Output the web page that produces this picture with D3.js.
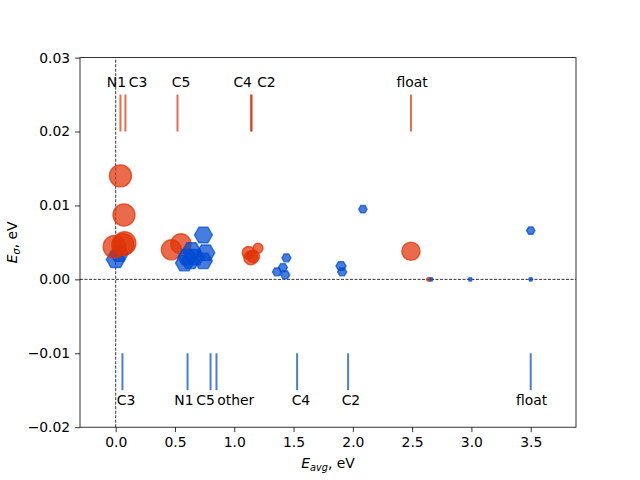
<!DOCTYPE html>
<html>
<head>
<meta charset="utf-8">
<script src="https://cdn.jsdelivr.net/npm/d3@7"></script>
<style>
  body { margin: 0; background: #fff; }
  text { font-family: "DejaVu Sans", sans-serif; }
</style>
</head>
<body>
<div id="chart"></div>
<script>
// orange circles (x = E_avg, y = E_sigma, s = marker weight)
var orangeX = [0.040, 0.070, -0.010, 0.075, 0.060, 0.47, 0.55, 1.12, 1.14, 1.16, 1.20, 2.49, 2.64];
var orangeY = [0.0140, 0.0087, 0.0044, 0.0049, 0.0047, 0.0040, 0.0048, 0.0036, 0.0029, 0.0031, 0.0042, 0.0038, 0.0];
var orangeS = [250, 250, 265, 265, 250, 210, 210, 80, 100, 80, 52, 170, 8];

// blue hexagons
var blueX = [0.00, 0.03, 0.74, 0.64, 0.76, 0.58, 0.63, 0.74, 0.67, 0.60, 1.44, 1.41, 1.36, 1.43, 1.90, 1.91, 2.085, 3.50, 2.66, 2.99, 3.50];
var blueY = [0.0027, 0.0035, 0.0060, 0.0039, 0.0036, 0.0022, 0.0025, 0.0025, 0.0030, 0.0030, 0.0029, 0.0016, 0.0010, 0.0006, 0.0018, 0.0010, 0.0095, 0.0066, 0.0, 0.0, 0.0];
var blueS = [180, 170, 165, 165, 165, 165, 165, 165, 165, 165, 42, 42, 42, 42, 52, 42, 36, 36, 8, 8, 8];

// reference marks above (orange) and below (blue)
var topLineX = [0.040, 0.082, 0.521, 1.141, 1.147, 2.490];
var topNames = ["N1", "C3", "C5", "C4", "C2", "float"];
var topLabelX = [0.006, 0.189, 0.552, 1.071, 1.271, 2.500];

var botLineX = [0.057, 0.606, 0.800, 0.850, 1.530, 1.960, 3.500];
var botNames = ["C3", "N1", "C5", "other", "C4", "C2", "float"];
var botLabelX = [0.087, 0.575, 0.758, 1.013, 1.562, 1.984, 3.508];

var xTicks = [0, 0.5, 1.0, 1.5, 2.0, 2.5, 3.0, 3.5];
var yTicks = [-0.02, -0.01, 0.00, 0.01, 0.02, 0.03];

//sizes
var width = 640, height = 480;
var margin = {top: 57.6, right: 64, bottom: 52.8, left: 80};
var fs = 13.9;

var orange = "rgb(224,50,5)", blue = "rgb(0,75,210)", alpha = 0.72;

var x = d3.scaleLinear().domain([-0.301, 3.882]).range([margin.left, width - margin.right]);
var y = d3.scaleLinear().domain([-0.02, 0.03]).range([height - margin.bottom, margin.top]);
var r = d3.scaleSqrt().domain([0, 250]).range([0, 11]);

var svg = d3.select("#chart").append("svg")
    .attr("width", width)
    .attr("height", height);

var plot = svg.append("g");

//dashed zero lines
plot.append("line")
    .attr("x1", x(0)).attr("x2", x(0))
    .attr("y1", y.range()[0]).attr("y2", y.range()[1])
    .attr("stroke", "black").attr("stroke-width", 0.8)
    .attr("stroke-dasharray", "3,1.5");
plot.append("line")
    .attr("x1", x.range()[0]).attr("x2", x.range()[1])
    .attr("y1", y(0)).attr("y2", y(0))
    .attr("stroke", "black").attr("stroke-width", 0.8)
    .attr("stroke-dasharray", "3,1.5");

//blue hexagons, flat top
function hexagon(rad) {
  var pts = d3.range(6).map(function (k) {
    var a = k * Math.PI / 3;
    return [rad * Math.cos(a), rad * Math.sin(a)];
  });
  return "M" + pts.join("L") + "Z";
}

function drawHex(g, idx) {
  g.selectAll("path")
    .data(idx)
    .enter().append("path")
    .attr("d", function (i) { return hexagon(r(blueS[i])); })
    .attr("transform", function (i) {
      return "translate(" + x(blueX[i]) + "," + y(blueY[i]) + ")";
    })
    .attr("fill", blue).attr("fill-opacity", alpha)
    .attr("stroke", blue).attr("stroke-opacity", alpha)
    .attr("stroke-width", 1.4);
}

var allBlue = d3.range(blueX.length);
// the two near zero sit under the circles, the rest on top
drawHex(plot.append("g"), allBlue.filter(function (i) { return blueX[i] < 0.3; }));

//orange circles
plot.append("g").selectAll("circle")
    .data(d3.range(orangeX.length))
    .enter().append("circle")
    .attr("cx", function (i) { return x(orangeX[i]); })
    .attr("cy", function (i) { return y(orangeY[i]); })
    .attr("r", function (i) { return r(orangeS[i]); })
    .attr("fill", orange).attr("fill-opacity", alpha)
    .attr("stroke", orange).attr("stroke-opacity", alpha)
    .attr("stroke-width", 1.4);

drawHex(plot.append("g"), allBlue.filter(function (i) { return blueX[i] >= 0.3; }));

//reference lines + labels
plot.append("g").selectAll("line")
    .data(topLineX)
    .enter().append("line")
    .attr("x1", function (d) { return x(d); }).attr("x2", function (d) { return x(d); })
    .attr("y1", y(0.02)).attr("y2", y(0.025))
    .attr("stroke", orange).attr("stroke-opacity", alpha).attr("stroke-width", 2);
plot.append("g").selectAll("text")
    .data(topNames)
    .enter().append("text")
    .attr("x", function (d, i) { return x(topLabelX[i]); })
    .attr("y", y(0.026))
    .attr("text-anchor", "middle")
    .style("font-size", fs + "px")
    .text(function (d) { return d; });

plot.append("g").selectAll("line")
    .data(botLineX)
    .enter().append("line")
    .attr("x1", function (d) { return x(d); }).attr("x2", function (d) { return x(d); })
    .attr("y1", y(-0.01)).attr("y2", y(-0.015))
    .attr("stroke", blue).attr("stroke-opacity", alpha).attr("stroke-width", 2);
plot.append("g").selectAll("text")
    .data(botNames)
    .enter().append("text")
    .attr("x", function (d, i) { return x(botLabelX[i]); })
    .attr("y", y(-0.017))
    .attr("text-anchor", "middle")
    .style("font-size", fs + "px")
    .text(function (d) { return d; });

//axes
var xAxis = svg.append("g")
    .attr("transform", "translate(0," + y.range()[0] + ")")
    .call(d3.axisBottom(x).tickValues(xTicks).tickFormat(d3.format(".1f")).tickSizeOuter(0).tickSize(4.9).tickPadding(4.9));
var yAxis = svg.append("g")
    .attr("transform", "translate(" + x.range()[0] + ",0)")
    .call(d3.axisLeft(y).tickValues(yTicks).tickFormat(d3.format(".2f")).tickSizeOuter(0).tickSize(4.9).tickPadding(4.9));

[xAxis, yAxis].forEach(function (ax) {
  ax.selectAll("text").style("font-size", fs + "px").attr("fill", "black")
    .style("font-family", "DejaVu Sans");
  ax.selectAll("line").attr("stroke", "black").attr("stroke-width", 0.8);
  ax.select(".domain").remove();
});

//frame
svg.append("rect")
    .attr("x", x.range()[0]).attr("y", y.range()[1])
    .attr("width", x.range()[1] - x.range()[0])
    .attr("height", y.range()[0] - y.range()[1])
    .attr("fill", "none").attr("stroke", "black").attr("stroke-width", 0.8);

//axis titles
var xl = svg.append("text")
    .attr("x", (x.range()[0] + x.range()[1]) / 2)
    .attr("y", 468)
    .attr("text-anchor", "middle")
    .style("font-size", fs + "px");
xl.append("tspan").style("font-style", "italic").text("E");
xl.append("tspan").style("font-style", "italic").style("font-size", (fs * 0.7) + "px")
    .attr("dy", 2.5).text("avg");
xl.append("tspan").attr("dy", -2.5).text(", eV");

var yl = svg.append("text")
    .attr("transform", "translate(17," + (y.range()[0] + y.range()[1]) / 2 + ") rotate(-90)")
    .attr("text-anchor", "middle")
    .style("font-size", fs + "px");
yl.append("tspan").style("font-style", "italic").text("E");
yl.append("tspan").style("font-style", "italic").style("font-size", (fs * 0.7) + "px")
    .attr("dy", 2.5).text("σ");
yl.append("tspan").attr("dy", -2.5).text(", eV");
</script>
</body>
</html>
